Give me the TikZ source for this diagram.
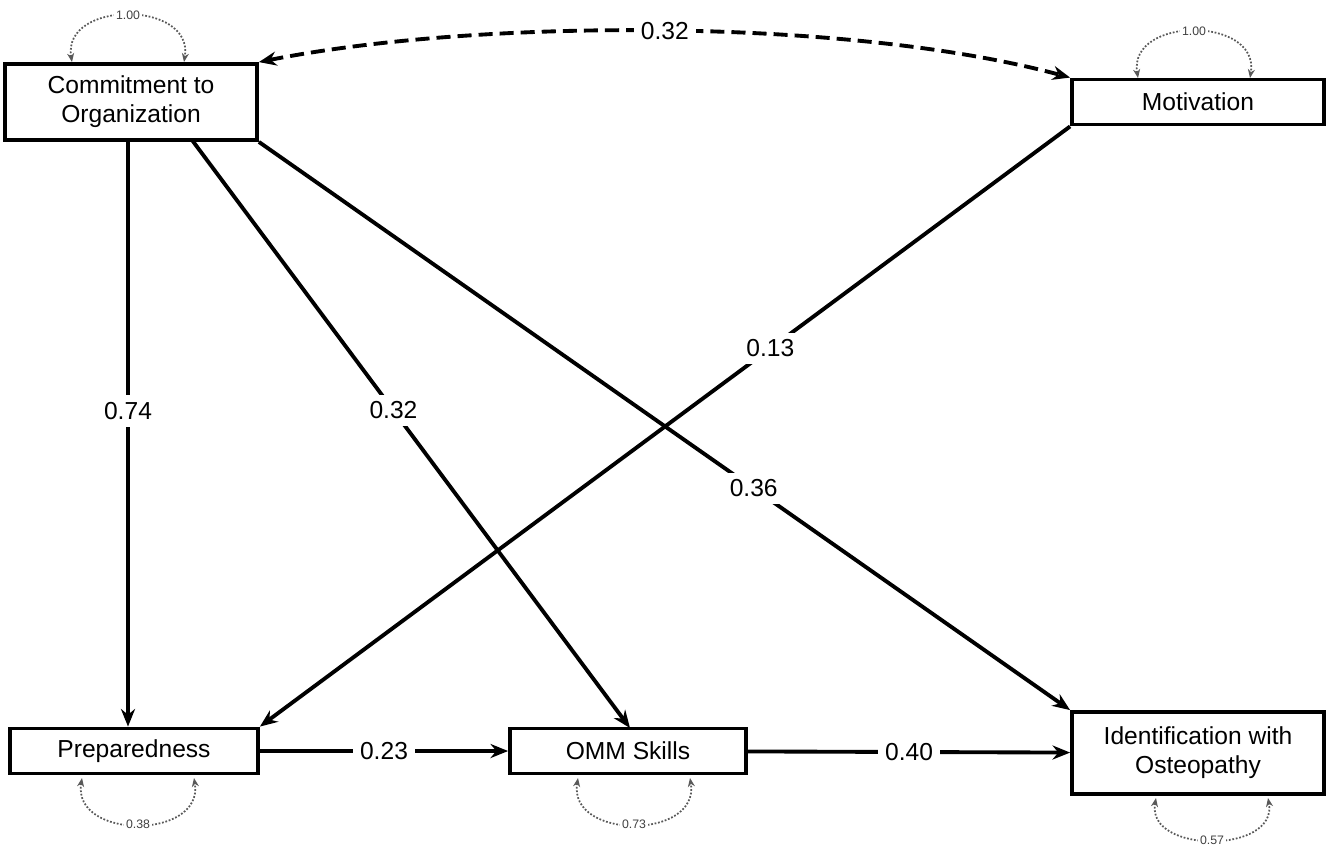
\documentclass[tikz,border=0pt]{standalone}
\usepackage{fontspec}
\setmainfont{Liberation Sans}
\usetikzlibrary{arrows.meta}
\begin{document}
\begin{tikzpicture}[x=0.02cm,y=-0.02cm,
 box/.style={draw,line width=2.2pt,minimum height=0.9cm,align=center,font=\fontsize{14}{16.5}\selectfont,inner sep=2pt},
 path/.style={line width=2.2pt,-{Stealth[length=10pt,width=8pt]}},
 lab/.style={fill=white,font=\fontsize{14}{16}\selectfont,inner sep=4pt},
 var/.style={densely dotted,line width=1pt,draw=gray!70!black,{Stealth[length=5pt,width=4pt]}-{Stealth[length=5pt,width=4pt]}},
 vlab/.style={font=\fontsize{7}{8}\selectfont,fill=white,inner sep=1pt,text=gray!50!black}]
\useasboundingbox (0,0) rectangle (1328,850);
\node[box,minimum width=5.04cm,minimum height=1.52cm] (co) at (131,102) {Commitment to\\Organization};
\node[box,minimum width=5.04cm] (mo) at (1198,102) {Motivation};
\node[box,minimum width=4.96cm] (pr) at (134,751) {Preparedness};
\node[box,minimum width=4.72cm] (om) at (628,751) {OMM Skills};
\node[box,minimum width=5.04cm,minimum height=1.64cm] (id) at (1198,753) {Identification with\\Osteopathy};
\draw[path] (co.south -| 128,0) -- node[lab,pos=0.46]{0.74} (pr.north -| 128,0);
\draw[path] (192,140) coordinate (a1) -- node[lab,pos=0.46]{0.32} (630,728) coordinate (b1);
\draw[path] (co.south east) -- node[lab,pos=0.61]{0.36} (id.north west);
\draw[path] (mo.south west) -- node[lab,pos=0.37]{0.13} (pr.north east);
\draw[path] (pr) -- node[lab]{0.23} (om);
\draw[path] (om) -- node[lab]{0.40} (id);
\draw[line width=2.2pt,dash pattern=on 8pt off 4pt,{Stealth[length=10pt,width=8pt]}-{Stealth[length=10pt,width=8pt]}] (co.north east) .. controls (480,18) and (850,18) .. node[lab,pos=0.5]{0.32} (mo.north west);
% variances
\draw[var] (72,62) .. controls (62,0) and (194,0) .. node[vlab,pos=0.5]{1.00} (184,62);
\draw[var] (1138,78) .. controls (1128,16) and (1260,16) .. node[vlab,pos=0.5]{1.00} (1250,78);
\draw[var] (82,778) .. controls (72,840) and (204,840) .. node[vlab,pos=0.5]{0.38} (194,778);
\draw[var] (578,778) .. controls (568,840) and (700,840) .. node[vlab,pos=0.5]{0.73} (690,778);
\draw[var] (1156,798) .. controls (1146,854) and (1278,854) .. node[vlab,pos=0.5]{0.57} (1268,798);
\end{tikzpicture}
\end{document}
